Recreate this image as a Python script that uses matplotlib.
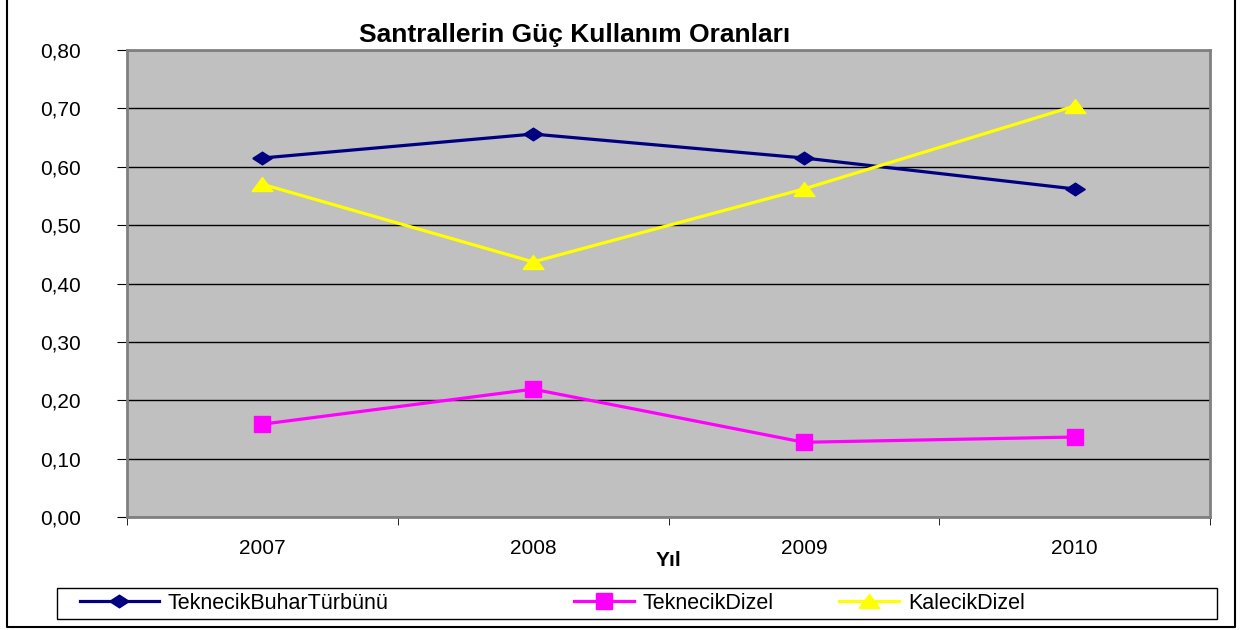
import matplotlib.pyplot as plt
from matplotlib.lines import Line2D
from matplotlib.patches import Rectangle
import numpy as np

plt.rcParams['font.family'] = ['Liberation Sans', 'DejaVu Sans']

# data
years = ['2007', '2008', '2009', '2010']
buhar = [0.615, 0.656, 0.615, 0.562]
dizel = [0.159, 0.219, 0.128, 0.137]
kalecik = [0.570, 0.437, 0.562, 0.704]
yticks = [0.0, 0.1, 0.2, 0.3, 0.4, 0.5, 0.6, 0.7, 0.8]
names = ['TeknecikBuharTürbünü', 'TeknecikDizel', 'KalecikDizel']

# squat diamond / triangle like the Excel markers
diamond = [(-1, 0), (0, 0.65), (1, 0), (0, -0.65), (-1, 0)]
triangle = [(-1, -0.67), (1, -0.67), (0, 0.67), (-1, -0.67)]
styles = [dict(color='#000080', marker=diamond, ms=14),
          dict(color='#ff00ff', marker='s', ms=11),
          dict(color='#ffff00', marker=triangle, ms=15)]

fig = plt.figure(figsize=(12.42, 6.3), dpi=100)
ax = fig.add_axes([127/1242, 1 - 517/630, (1210 - 127)/1242, (517 - 50)/630])
ax.set_facecolor('#c0c0c0')

x = np.arange(len(years))
for vals, st, nm in zip([buhar, dizel, kalecik], styles, names):
    ax.plot(x, vals, '-', lw=2.3, label=nm, **st)

ax.set_xlim(-0.5, 3.5)
ax.set_ylim(0, 0.8)
ax.set_yticks(yticks)
ax.set_yticklabels([('%.2f' % v).replace('.', ',') for v in yticks], fontsize=15)
ax.yaxis.grid(True, color='black', lw=1)
ax.set_axisbelow(True)

ax.set_xticks(x)
ax.set_xticklabels(years, fontsize=15)
ax.set_xticks(np.arange(-0.5, 4, 1), minor=True)
ax.tick_params(axis='x', which='major', length=0, pad=16)
ax.tick_params(axis='x', which='minor', length=6, direction='out')
ax.tick_params(axis='y', length=7, direction='out', pad=26)

for s in ax.spines.values():
    s.set_color('#808080')
    s.set_linewidth(2)

ax.set_xlabel('Yıl', fontsize=15, fontweight='bold', labelpad=-5)
fig.text(575/1242, 1 - 35/630, 'Santrallerin Güç Kullanım Oranları',
         ha='center', va='center', fontsize=19, fontweight='bold')

# legend box with three entries at Excel's positions
fig.add_artist(Rectangle((57/1242, 1 - 619/630), (1217 - 57)/1242, 31/630,
                         transform=fig.transFigure, fill=False,
                         edgecolor='black', lw=1))
for st, nm, xl, hl in zip(styles, names, [80, 574, 839], [3.65, 2.8, 2.8]):
    h = Line2D([], [], lw=2.3, **st)
    fig.legend([h], [nm], loc='center left', frameon=False, fontsize=15.5,
               bbox_to_anchor=(xl/1242, 1 - 603.5/630), borderaxespad=0,
               borderpad=0, handlelength=hl, handletextpad=0.4)

# outer chart frame
fig.add_artist(Line2D([7/1242, 7/1242, 1235/1242, 1235/1242],
                      [1.0, 1 - 627/630, 1 - 627/630, 1.0],
                      transform=fig.transFigure, color='black', lw=1.5))

fig.savefig('out.png', dpi=100)
